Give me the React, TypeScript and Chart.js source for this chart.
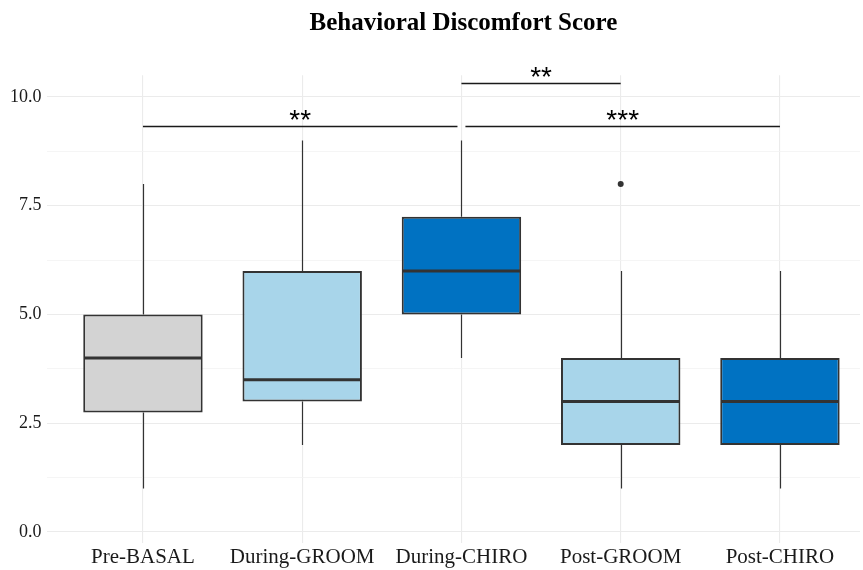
import React, { useEffect, useRef } from 'react';
import { Chart, registerables } from 'chart.js';

Chart.register(...registerables);

// ---- data ----
const categories = ['Pre-BASAL', 'During-GROOM', 'During-CHIRO', 'Post-GROOM', 'Post-CHIRO'];
const whiskerLow = [1, 2, 4, 1, 1];
const q1 = [2.75, 3, 5, 2, 2];
const median = [4, 3.5, 6, 3, 3];
const q3 = [5, 6, 7.25, 4, 4];
const whiskerHigh = [8, 9, 9, 6, 6];
const outlierGroup = [3];
const outlierValue = [8];
const boxColors = ['#d3d3d3', '#a8d5ea', '#0072c2', '#a8d5ea', '#0072c2'];

// significance brackets (x in category units, y in score units)
const sigFrom = [0, 2, 2.025];
const sigTo = [1.975, 3, 4];
const sigY = [9.33, 10.32, 9.33];
const sigLabel = ['**', '**', '***'];

const majorTicks = [0, 2.5, 5, 7.5, 10];
const titleText = 'Behavioral Discomfort Score';

const isMajor = (v: number) => majorTicks.some((m) => Math.abs(m - v) < 1e-6);

const boxPlugin = {
  id: 'boxExtras',
  beforeDatasetsDraw(chart: any) {
    const { ctx, scales } = chart;
    const x = scales.x;
    const y = scales.y;
    ctx.save();
    ctx.strokeStyle = '#333333';
    ctx.lineWidth = 1.2;
    categories.forEach((_, i) => {
      const px = Math.round(x.getPixelForValue(i)) + 0.5;
      ctx.beginPath();
      ctx.moveTo(px, y.getPixelForValue(whiskerLow[i]));
      ctx.lineTo(px, y.getPixelForValue(q1[i]));
      ctx.moveTo(px, y.getPixelForValue(q3[i]));
      ctx.lineTo(px, y.getPixelForValue(whiskerHigh[i]));
      ctx.stroke();
    });
    ctx.restore();
  },
  afterDatasetsDraw(chart: any) {
    const { ctx, scales } = chart;
    const x = scales.x;
    const y = scales.y;
    const meta = chart.getDatasetMeta(0);
    ctx.save();
    ctx.strokeStyle = '#333333';
    ctx.lineWidth = 3;
    meta.data.forEach((bar: any, i: number) => {
      const { x: cx, width } = bar.getProps(['x', 'width'], true);
      const py = y.getPixelForValue(median[i]);
      ctx.beginPath();
      ctx.moveTo(cx - width / 2 + 1, py);
      ctx.lineTo(cx + width / 2 - 1, py);
      ctx.stroke();
    });
    // significance brackets
    ctx.strokeStyle = '#1a1a1a';
    ctx.lineWidth = 1.5;
    ctx.fillStyle = '#000000';
    ctx.font = '28px "Liberation Sans", Arial, sans-serif';
    ctx.textAlign = 'center';
    ctx.textBaseline = 'alphabetic';
    sigLabel.forEach((lab, i) => {
      const x0 = x.getPixelForValue(sigFrom[i]);
      const x1 = x.getPixelForValue(sigTo[i]);
      const py = Math.round(y.getPixelForValue(sigY[i])) + 0.5;
      ctx.beginPath();
      ctx.moveTo(x0, py);
      ctx.lineTo(x1, py);
      ctx.stroke();
      ctx.fillText(lab, (x0 + x1) / 2, py + 2);
    });
    // title, centred on the panel (middle category)
    ctx.font = 'bold 25px "Liberation Serif", "Times New Roman", serif';
    ctx.fillStyle = '#000000';
    ctx.fillText(titleText, x.getPixelForValue(2) + 2, 30);
    ctx.restore();
  },
};

export default function App() {
  const ref = useRef<HTMLCanvasElement | null>(null);

  useEffect(() => {
    document.body.style.margin = '0';
    const canvas = ref.current;
    if (!canvas) return;
    Chart.defaults.font.family = '"Liberation Serif", "Times New Roman", serif';
    const chart = new Chart(canvas, {
      type: 'bar',
      data: {
        datasets: [
          {
            type: 'bar',
            data: categories.map((_, i) => ({ x: i, y: [q1[i], q3[i]] })) as any,
            backgroundColor: boxColors,
            borderColor: '#333333',
            borderWidth: 2,
            borderSkipped: false,
            barPercentage: 0.75,
            categoryPercentage: 1,
            grouped: false,
          } as any,
          {
            type: 'scatter',
            data: outlierGroup.map((g, i) => ({ x: g, y: outlierValue[i] })),
            backgroundColor: '#333333',
            borderColor: '#333333',
            pointRadius: 3,
            pointHoverRadius: 3,
            borderWidth: 0,
          } as any,
        ],
      },
      options: {
        responsive: false,
        animation: false,
        layout: { padding: { left: 0, right: 0, top: 75.25, bottom: 0 } },
        plugins: {
          legend: { display: false },
          tooltip: { enabled: false },
          title: { display: false },
        },
        scales: {
          x: {
            type: 'linear',
            min: -0.6,
            max: 4.5027,
            offset: false,
            border: { display: false },
            grid: { color: '#ebebeb', lineWidth: 1.1, drawTicks: false, offset: false },
            ticks: {
              stepSize: 1,
              includeBounds: false,
              autoSkip: false,
              maxRotation: 0,
              minRotation: 0,
              padding: 2,
              color: '#1a1a1a',
              font: { size: 21 },
              callback: (v: any) => categories[v as number] ?? '',
            },
            afterFit: (s: any) => {
              s.height = 27.1;
            },
          },
          y: {
            type: 'linear',
            min: -0.25,
            max: 10.5,
            border: { display: false },
            grid: {
              drawTicks: false,
              color: (c: any) => (c.tick && isMajor(c.tick.value) ? '#ebebeb' : '#f3f3f3'),
              lineWidth: (c: any) => (c.tick && isMajor(c.tick.value) ? 1.1 : 0.8),
            },
            ticks: {
              stepSize: 1.25,
              includeBounds: false,
              autoSkip: false,
              padding: 6,
              color: '#1a1a1a',
              font: { size: 18 },
              callback: (v: any) => (isMajor(v) ? Number(v).toFixed(1) : ''),
            },
            afterFit: (s: any) => {
              s.width = 47.4;
            },
          },
        },
      } as any,
      plugins: [boxPlugin],
    });
    return () => chart.destroy();
  }, []);

  return (
    <div style={{ position: 'absolute', left: 0, top: 0, width: 863, height: 570 }}>
      <canvas ref={ref} width={863} height={570} style={{ display: 'block' }} />
    </div>
  );
}
